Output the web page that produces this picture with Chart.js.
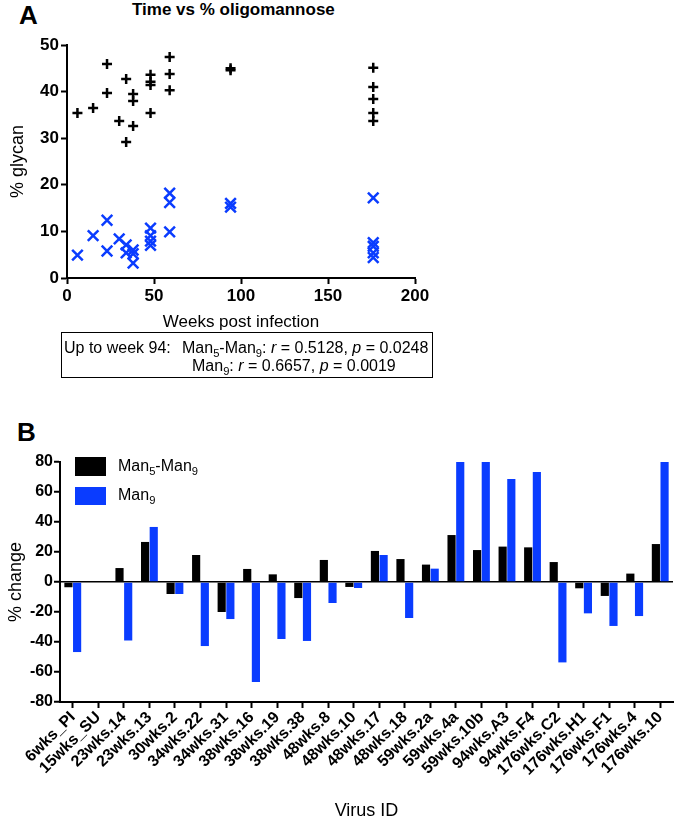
<!DOCTYPE html>
<html>
<head>
<meta charset="utf-8">
<script src="https://cdn.jsdelivr.net/npm/chart.js@4.4.1/dist/chart.umd.min.js"></script>
<style>
    body { margin: 0; background: #fff; font-family: Arial, "Liberation Sans", sans-serif; }
    #page { position: relative; width: 680px; height: 822px; overflow: hidden; }
    .abs { position: absolute; white-space: nowrap; color: #000; }
    .panel { font-weight: bold; font-size: 26px; }
    #statBox { position: absolute; left: 61px; top: 332px; width: 372px; height: 46px; border: 1px solid #000; box-sizing: border-box; }
    .stat { font-size: 16px; line-height: 18px; }
    .leg { font-size: 16px; line-height: 18px; }
    sub { font-size: 70%; line-height: 0; }
</style>
</head>
<body>
<div id="page">
    <div class="abs panel" style="left:19px; top:0px;">A</div>
    <div class="abs" style="left:132px; top:0px; font-weight:bold; font-size:17px;">Time vs % oligomannose</div>
    <canvas id="scatterChart" width="440" height="335" style="position:absolute; left:0; top:0;"></canvas>

    <div id="statBox"></div>
    <div class="abs stat" style="left:64px; top:339px;">Up to week 94:</div>
    <div class="abs stat" style="left:182px; top:339px;">Man<sub>5</sub>-Man<sub>9</sub>: <i>r</i> = 0.5128, <i>p</i> = 0.0248</div>
    <div class="abs stat" style="left:192px; top:357px;">Man<sub>9</sub>: <i>r</i> = 0.6657, <i>p</i> = 0.0019</div>

    <div class="abs panel" style="left:17px; top:417px;">B</div>
    <canvas id="barChart" width="680" height="422" style="position:absolute; left:0; top:400px;"></canvas>

    <!-- legend for panel B -->
    <div class="abs" style="left:75px; top:457px; width:31px; height:19px; background:#000;"></div>
    <div class="abs leg" style="left:118px; top:457px;">Man<sub>5</sub>-Man<sub>9</sub></div>
    <div class="abs" style="left:75px; top:487px; width:31px; height:18px; background:#0a3cff;"></div>
    <div class="abs leg" style="left:118px; top:486px;">Man<sub>9</sub></div>
</div>

<script>
// Panel A: weeks post infection vs % glycan
const weeks = [6, 15, 23, 23, 30, 34, 34, 38, 38, 38, 48, 48, 48, 48, 59, 59, 59, 94, 94, 176, 176, 176, 176, 176];
const man5to9Glycan = [35.4, 36.5, 45.9, 39.7, 33.7, 42.7, 29.2, 39.5, 38.0, 32.6, 43.6, 42.1, 41.4, 35.4, 47.4, 43.8, 40.3, 44.6, 45.0, 45.1, 41.0, 38.4, 35.4, 33.7];
const man9Glycan = [4.9, 9.1, 12.4, 5.8, 8.4, 7.1, 5.4, 6.0, 5.2, 3.2, 10.7, 9.1, 7.9, 7.0, 18.2, 16.2, 9.9, 16.0, 15.2, 17.2, 7.6, 6.8, 5.4, 4.4];
const weekTicks = [0, 50, 100, 150, 200];
const glycanTicks = [0, 10, 20, 30, 40, 50];

// Panel B: % change per virus
const virusIds = ['6wks_PI', '15wks_SU', '23wks.14', '23wks.13', '30wks.2', '34wks.22', '34wks.31', '38wks.16',
    '38wks.19', '38wks.38', '48wks.8', '48wks.10', '48wks.17', '48wks.18', '59wks.2a', '59wks.4a', '59wks.10b',
    '94wks.A3', '94wks.F4', '176wks.C2', '176wks.H1', '176wks.F1', '176wks.4', '176wks.10'];
const man5to9Change = [-3.5, 0, 9.3, 26.7, -8, 18, -20, 8.7, 5.1, -10.7, 14.7, -3.3, 20.7, 15.3, 11.6, 31.3, 21.3, 23.6, 23.1, 13.3, -4.2, -9.3, 5.6, 25.3];
const man9Change = [-46.7, 0, -39, 36.7, -8, -42.7, -24.7, -66.7, -38, -39.3, -14, -4, 18, -24, 8.9, 80, 80, 68.7, 73.3, -53.6, -20.9, -29.3, -22.7, 80];
const changeTicks = [-80, -60, -40, -20, 0, 20, 40, 60, 80];

Chart.defaults.font.family = 'Arial, "Liberation Sans", sans-serif';
Chart.defaults.color = '#000';

const blue = '#0a3cff';

function toPoints(xs, ys) {
    return xs.map((x, i) => ({ x: x, y: ys[i] }));
}

new Chart(document.getElementById('scatterChart'), {
    type: 'scatter',
    data: {
        datasets: [{
            label: 'Man5-Man9',
            data: toPoints(weeks, man5to9Glycan),
            pointStyle: 'cross',
            pointRadius: 5,
            borderColor: '#000',
            borderWidth: 2.5
        }, {
            label: 'Man9',
            data: toPoints(weeks, man9Glycan),
            pointStyle: 'crossRot',
            pointRadius: 7.5,
            borderColor: blue,
            borderWidth: 2.5
        }]
    },
    options: {
        responsive: false,
        devicePixelRatio: 1,
        animation: false,
        layout: { padding: { top: 45, right: 25, left: 0, bottom: 0 } },
        plugins: { legend: { display: false }, tooltip: { enabled: false } },
        scales: {
            x: {
                type: 'linear',
                min: 0, max: 200,
                afterBuildTicks: s => { s.ticks = weekTicks.map(v => ({ value: v })); },
                afterFit: s => { s.height = 57; },
                border: { color: '#000', width: 2 },
                grid: { drawOnChartArea: false, tickColor: '#000', tickLength: 6, tickWidth: 2 },
                ticks: { font: { size: 17, weight: 'bold' }, padding: 2, maxRotation: 0 },
                title: { display: true, text: 'Weeks post infection', font: { size: 17 }, padding: { top: 0, bottom: 2 } }
            },
            y: {
                min: 0, max: 50,
                afterBuildTicks: s => { s.ticks = glycanTicks.map(v => ({ value: v })); },
                afterFit: s => { s.width = 67; },
                border: { color: '#000', width: 2 },
                grid: { drawOnChartArea: false, tickColor: '#000', tickLength: 6, tickWidth: 2 },
                ticks: { font: { size: 17, weight: 'bold' }, padding: 2 },
                title: { display: true, text: '% glycan', font: { size: 18 }, padding: { top: 7 } }
            }
        }
    }
});

new Chart(document.getElementById('barChart'), {
    type: 'bar',
    data: {
        labels: virusIds,
        datasets: [{
            label: 'Man5-Man9',
            data: man5to9Change,
            backgroundColor: '#000',
            barPercentage: 0.94,
            categoryPercentage: 0.68
        }, {
            label: 'Man9',
            data: man9Change,
            backgroundColor: blue,
            barPercentage: 0.94,
            categoryPercentage: 0.68
        }]
    },
    options: {
        responsive: false,
        devicePixelRatio: 1,
        animation: false,
        layout: { padding: { top: 62, right: 7, left: 0, bottom: 0 } },
        plugins: { legend: { display: false }, tooltip: { enabled: false } },
        scales: {
            x: {
                afterFit: s => { s.height = 120; },
                border: { color: '#000', width: 2 },
                grid: { drawOnChartArea: false, tickColor: '#000', tickLength: 6, tickWidth: 2, offset: false },
                ticks: { font: { size: 16, weight: 'bold' }, minRotation: 45, maxRotation: 45, padding: 0, autoSkip: false },
                title: { display: true, text: 'Virus ID', font: { size: 18 }, padding: { top: 0, bottom: 0 } }
            },
            y: {
                min: -80, max: 80,
                afterBuildTicks: s => { s.ticks = changeTicks.map(v => ({ value: v })); },
                afterFit: s => { s.width = 60; },
                border: { color: '#000', width: 2 },
                grid: {
                    color: c => (c.tick && c.tick.value === 0) ? '#000' : 'rgba(0,0,0,0)',
                    lineWidth: 1.5,
                    tickColor: '#000', tickLength: 6, tickWidth: 2
                },
                ticks: { font: { size: 16, weight: 'bold' }, padding: 1 },
                title: { display: true, text: '% change', font: { size: 18 }, padding: { top: 5 } }
            }
        }
    }
});
</script>
</body>
</html>
